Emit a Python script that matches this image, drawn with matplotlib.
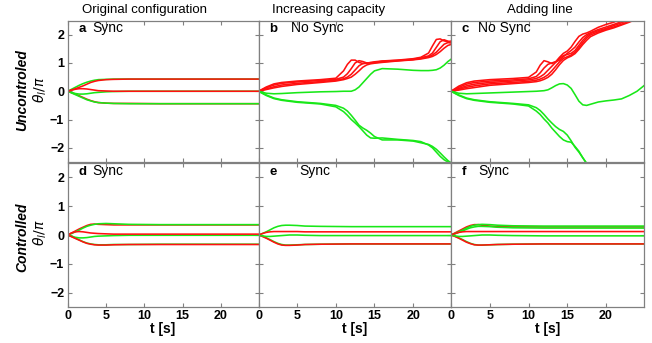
"""
Phase trajectories theta_i/pi for the grid scenarios, uncontrolled vs controlled.
"""

import matplotlib.pyplot as plt

plt.rcParams['font.family'] = ['Liberation Sans', 'DejaVu Sans']

RED = '#ff1010'
GREEN = '#18e818'

col_titles = ['Original configuration', 'Increasing capacity', 'Adding line']
row_labels = ['Uncontroled', 'Controlled']
panel_letters = ['a', 'b', 'c', 'd', 'e', 'f']
panel_status = ['Sync', 'No Sync', 'No Sync', 'Sync', 'Sync', 'Sync']

# time grid for the panels that settle down (a, d, e, f)
t_settle = [0, 0.5, 1, 1.5, 2, 2.5, 3, 3.5, 4, 5, 6, 8, 12, 25]

a_red_top = [0, 0.04, 0.09, 0.14, 0.19, 0.25, 0.31, 0.35, 0.38, 0.41, 0.42, 0.43, 0.43, 0.43]
a_green_top = [0, 0.07, 0.14, 0.21, 0.27, 0.32, 0.36, 0.39, 0.41, 0.42, 0.43, 0.43, 0.43, 0.43]
a_red_mid = [0, 0.04, 0.07, 0.09, 0.09, 0.08, 0.06, 0.04, 0.02, 0.01, 0.0, 0.0, 0.0, 0.0]
a_green_mid = [0, -0.04, -0.08, -0.10, -0.10, -0.09, -0.07, -0.05, -0.04, -0.02, -0.01, 0.0, 0.0, 0.0]
a_red_bot = [0, -0.05, -0.10, -0.16, -0.22, -0.28, -0.33, -0.37, -0.40, -0.42, -0.43, -0.43, -0.44, -0.44]
a_green_bot = [0, -0.06, -0.12, -0.18, -0.24, -0.30, -0.34, -0.38, -0.40, -0.42, -0.43, -0.44, -0.44, -0.44]

d_red_top = [0, 0.07, 0.14, 0.21, 0.27, 0.33, 0.37, 0.38, 0.37, 0.36, 0.35, 0.35, 0.35, 0.35]
d_green_top = [0, 0.05, 0.11, 0.17, 0.24, 0.30, 0.34, 0.37, 0.39, 0.40, 0.39, 0.37, 0.36, 0.36]
d_red_mid = [0, 0.07, 0.11, 0.12, 0.11, 0.09, 0.07, 0.06, 0.05, 0.04, 0.03, 0.03, 0.03, 0.03]
d_green_mid = [0, -0.04, -0.08, -0.10, -0.10, -0.09, -0.07, -0.05, -0.04, -0.03, -0.02, -0.01, -0.01, -0.01]
d_red_bot = [0, -0.06, -0.12, -0.18, -0.24, -0.29, -0.32, -0.34, -0.35, -0.35, -0.34, -0.33, -0.33, -0.33]
d_green_bot = [0, -0.05, -0.11, -0.17, -0.23, -0.28, -0.31, -0.33, -0.34, -0.34, -0.33, -0.33, -0.32, -0.32]

e_green_top = [0, 0.05, 0.11, 0.18, 0.25, 0.30, 0.33, 0.34, 0.34, 0.33, 0.31, 0.30, 0.29, 0.29]
e_red_mid = [0, 0.05, 0.09, 0.11, 0.12, 0.12, 0.12, 0.12, 0.12, 0.12, 0.11, 0.11, 0.11, 0.11]
e_green_mid = [0, -0.03, -0.05, -0.05, -0.04, -0.03, -0.02, -0.01, 0.0, 0.0, -0.01, -0.02, -0.02, -0.02]
e_red_bot = [0, -0.05, -0.11, -0.18, -0.25, -0.31, -0.35, -0.36, -0.36, -0.35, -0.33, -0.32, -0.31, -0.31]
e_green_bot = [0, -0.04, -0.10, -0.16, -0.23, -0.29, -0.33, -0.35, -0.35, -0.34, -0.33, -0.32, -0.31, -0.31]

f_red_top = [0, 0.07, 0.14, 0.21, 0.28, 0.33, 0.36, 0.36, 0.34, 0.31, 0.29, 0.28, 0.28, 0.28]
f_green_top = [0, 0.05, 0.11, 0.17, 0.24, 0.30, 0.34, 0.36, 0.37, 0.36, 0.34, 0.32, 0.31, 0.31]
f_green_top2 = [0, 0.04, 0.09, 0.14, 0.20, 0.25, 0.28, 0.30, 0.30, 0.29, 0.27, 0.25, 0.24, 0.24]
f_red_mid = [0, 0.05, 0.09, 0.11, 0.12, 0.12, 0.12, 0.12, 0.12, 0.12, 0.12, 0.12, 0.12, 0.12]
f_green_mid = [0, -0.03, -0.05, -0.05, -0.04, -0.03, -0.02, -0.01, 0.0, 0.0, -0.01, -0.02, -0.03, -0.03]
f_red_bot = [0, -0.05, -0.11, -0.18, -0.25, -0.30, -0.34, -0.35, -0.35, -0.34, -0.33, -0.32, -0.31, -0.31]
f_green_bot = [0, -0.04, -0.10, -0.16, -0.23, -0.29, -0.33, -0.35, -0.35, -0.34, -0.33, -0.32, -0.31, -0.31]

# panel b: increasing capacity, no sync
t_b = [0, 1, 2, 3, 5, 8, 10, 11, 11.5, 12, 12.5, 13, 13.5, 14, 14.5, 15, 16, 18, 20,
       21, 22, 22.5, 23, 23.5, 24, 24.5, 25]
b_red1 = [0, 0.15, 0.26, 0.31, 0.36, 0.41, 0.46, 0.72, 0.95, 1.10, 1.10, 1.02, 0.98, 0.99, 1.02,
          1.04, 1.07, 1.10, 1.15, 1.20, 1.35, 1.60, 1.83, 1.85, 1.78, 1.75, 1.78]
b_red2 = [0, 0.12, 0.22, 0.28, 0.33, 0.38, 0.42, 0.50, 0.62, 0.80, 1.00, 1.08, 1.05, 1.00, 1.00,
          1.02, 1.06, 1.09, 1.13, 1.18, 1.25, 1.35, 1.55, 1.75, 1.82, 1.77, 1.72]
b_red3 = [0, 0.08, 0.16, 0.22, 0.28, 0.34, 0.39, 0.44, 0.50, 0.60, 0.75, 0.90, 0.98, 1.00, 1.00,
          1.01, 1.04, 1.08, 1.12, 1.16, 1.22, 1.28, 1.38, 1.52, 1.66, 1.72, 1.70]
b_red4 = [0, 0.06, 0.12, 0.17, 0.24, 0.31, 0.36, 0.41, 0.45, 0.50, 0.60, 0.72, 0.85, 0.93, 0.97,
          0.99, 1.02, 1.07, 1.11, 1.14, 1.19, 1.23, 1.30, 1.40, 1.52, 1.62, 1.66]
b_green_mid = [0, -0.07, -0.09, -0.08, -0.05, -0.02, -0.01, 0.0, 0.0, 0.0, 0.05, 0.15, 0.30, 0.45,
               0.60, 0.72, 0.80, 0.78, 0.74, 0.73, 0.73, 0.74, 0.76, 0.82, 0.92, 1.05, 1.15]
b_green_bot1 = [0, -0.15, -0.26, -0.32, -0.39, -0.45, -0.55, -0.72, -0.85, -1.00, -1.12, -1.25,
                -1.40, -1.55, -1.65, -1.66, -1.65, -1.70, -1.74, -1.78, -1.90, -2.00, -2.15,
                -2.30, -2.42, -2.50, -2.55]
b_green_bot2 = [0, -0.13, -0.24, -0.30, -0.37, -0.43, -0.50, -0.60, -0.70, -0.85, -1.02, -1.20,
                -1.30, -1.38, -1.48, -1.60, -1.72, -1.72, -1.76, -1.82, -1.88, -1.95, -2.05,
                -2.18, -2.32, -2.45, -2.55]

# panel c: adding line, no sync
t_c = [0, 1, 2, 3, 5, 8, 10, 11, 11.5, 12, 12.5, 13, 13.5, 14, 14.5, 15, 15.5, 16, 16.5,
       17, 17.5, 18, 19, 20, 21, 22, 23, 24, 25]
c_red1 = [0, 0.18, 0.30, 0.36, 0.41, 0.45, 0.49, 0.68, 0.92, 1.08, 1.04, 0.98, 1.04, 1.20, 1.34,
          1.42, 1.56, 1.76, 1.94, 2.02, 2.06, 2.12, 2.26, 2.36, 2.44, 2.56, 2.68, 2.80, 2.90]
c_red2 = [0, 0.14, 0.25, 0.31, 0.36, 0.40, 0.44, 0.52, 0.65, 0.82, 0.95, 1.00, 1.04, 1.10, 1.22,
          1.34, 1.44, 1.56, 1.74, 1.90, 2.00, 2.07, 2.18, 2.27, 2.36, 2.46, 2.56, 2.68, 2.80]
c_red3 = [0, 0.10, 0.19, 0.25, 0.31, 0.36, 0.40, 0.45, 0.51, 0.60, 0.74, 0.88, 1.02, 1.16, 1.26,
          1.30, 1.34, 1.44, 1.62, 1.80, 1.94, 2.04, 2.14, 2.22, 2.32, 2.42, 2.52, 2.64, 2.74]
c_red4 = [0, 0.07, 0.14, 0.19, 0.26, 0.31, 0.35, 0.39, 0.43, 0.49, 0.58, 0.72, 0.88, 1.04, 1.16,
          1.22, 1.28, 1.38, 1.54, 1.72, 1.88, 1.99, 2.10, 2.19, 2.27, 2.37, 2.47, 2.60, 2.70]
c_red5 = [0, 0.04, 0.09, 0.13, 0.21, 0.27, 0.31, 0.34, 0.37, 0.42, 0.49, 0.60, 0.76, 0.94, 1.09,
          1.18, 1.24, 1.33, 1.48, 1.65, 1.80, 1.93, 2.06, 2.16, 2.24, 2.34, 2.44, 2.56, 2.66]
c_green_mid = [0, -0.07, -0.09, -0.08, -0.06, -0.03, -0.01, 0.0, 0.01, 0.02, 0.05, 0.12, 0.20,
               0.26, 0.27, 0.22, 0.10, -0.12, -0.35, -0.48, -0.50, -0.46, -0.38, -0.34, -0.31,
               -0.27, -0.15, 0.0, 0.22]
c_green_bot1 = [0, -0.15, -0.26, -0.32, -0.39, -0.45, -0.52, -0.70, -0.82, -0.98, -1.12, -1.30,
                -1.45, -1.60, -1.72, -1.78, -1.80, -1.95, -2.12, -2.35, -2.55, -2.75, -3.00,
                -3.20, -3.40, -3.60, -3.80, -4.00, -4.20]
c_green_bot2 = [0, -0.13, -0.24, -0.30, -0.37, -0.43, -0.48, -0.58, -0.68, -0.82, -0.98, -1.12,
                -1.25, -1.35, -1.42, -1.55, -1.75, -1.98, -2.15, -2.35, -2.55, -2.75, -3.00,
                -3.20, -3.40, -3.60, -3.80, -4.00, -4.20]

# drawing order per panel (later ones on top)
panels = [
    (t_settle, [(GREEN, a_green_top), (RED, a_red_bot), (GREEN, a_green_bot),
                (GREEN, a_green_mid), (RED, a_red_mid), (RED, a_red_top)]),
    (t_b, [(RED, b_red4), (RED, b_red3), (RED, b_red2), (RED, b_red1),
           (GREEN, b_green_mid), (GREEN, b_green_bot2), (GREEN, b_green_bot1)]),
    (t_c, [(RED, c_red5), (RED, c_red4), (RED, c_red3), (RED, c_red2), (RED, c_red1),
           (GREEN, c_green_mid), (GREEN, c_green_bot2), (GREEN, c_green_bot1)]),
    (t_settle, [(GREEN, d_green_bot), (RED, d_red_top), (GREEN, d_green_top),
                (GREEN, d_green_mid), (RED, d_red_mid), (RED, d_red_bot)]),
    (t_settle, [(GREEN, e_green_bot), (RED, e_red_bot), (GREEN, e_green_top),
                (GREEN, e_green_mid), (RED, e_red_mid)]),
    (t_settle, [(GREEN, f_green_bot), (RED, f_red_bot), (RED, f_red_top),
                (GREEN, f_green_top2), (GREEN, f_green_top),
                (GREEN, f_green_mid), (RED, f_red_mid)]),
]

W, H = 652, 343
fig = plt.figure(figsize=(W / 100, H / 100), dpi=100)

# axes boxes in pixels: (left, right) per column, (top, bottom) per row
cols_px = [(67.7, 258.5), (258.5, 451), (451, 644)]
rows_px = [(20.5, 162), (163, 307)]
status_x = [0.13, 0.17, 0.14, 0.13, 0.21, 0.14]
title_x = [145, 329, 540]

for k, (t, curves) in enumerate(panels):
    r, c = divmod(k, 3)
    x0, x1 = cols_px[c]
    y0, y1 = rows_px[r]
    ax = fig.add_axes([x0 / W, 1 - y1 / H, (x1 - x0) / W, (y1 - y0) / H])
    for color, y in curves:
        ax.plot(t, y, color=color, lw=1.15, solid_joinstyle='round')
    ax.set_xlim(0, 24.9)
    ax.set_ylim(-2.5, 2.5)
    ax.set_xticks([0, 5, 10, 15, 20])
    ax.set_yticks([-2, -1, 0, 1, 2])
    ax.tick_params(direction='in', length=3, color='#808080', top=True, right=True,
                   labelsize=9, pad=2.5)
    for lab in ax.get_xticklabels() + ax.get_yticklabels():
        lab.set_fontweight('bold')
    for s in ax.spines.values():
        s.set_color('#808080')
        s.set_linewidth(0.9)
    if c != 0:
        ax.set_yticklabels([])
    if r == 0:
        ax.set_xticklabels([])
    else:
        ax.set_xlabel('t [s]', fontsize=10, fontweight='bold', labelpad=0)
    ax.text(0.055, 0.94, panel_letters[k], transform=ax.transAxes, fontsize=9.5,
            fontweight='bold', va='center', ha='left')
    ax.text(status_x[k], 0.945, panel_status[k], transform=ax.transAxes, fontsize=10,
            va='center', ha='left')

for c in range(3):
    fig.text(title_x[c] / W, 1 - 10 / H, col_titles[c], fontsize=9.5, ha='center', va='center')

fig.text(22 / W, 1 - 90 / H, row_labels[0], fontsize=10, fontweight='bold', style='italic',
         rotation=90, ha='center', va='center')
fig.text(40 / W, 1 - 90 / H, r'$\theta_l/\pi$', fontsize=10, rotation=90,
         ha='center', va='center')
fig.text(22 / W, 1 - 237 / H, row_labels[1], fontsize=10, fontweight='bold', style='italic',
         rotation=90, ha='center', va='center')
fig.text(40 / W, 1 - 233 / H, r'$\theta_l/\pi$', fontsize=10, rotation=90,
         ha='center', va='center')

fig.savefig('out.png', dpi=100)
